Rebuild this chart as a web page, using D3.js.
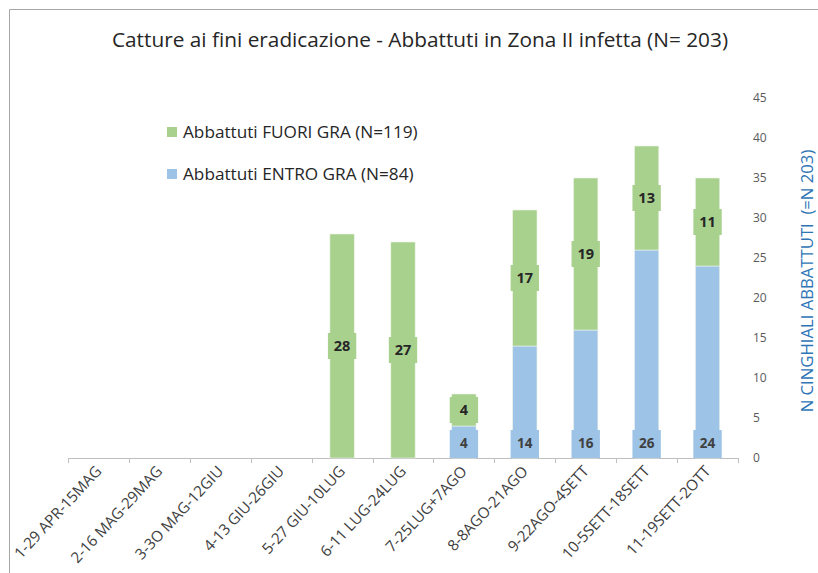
<!DOCTYPE html>
<html>
<head>
<meta charset="utf-8">
<script src="https://cdnjs.cloudflare.com/ajax/libs/d3/7.8.5/d3.min.js"></script>
<style>
  body { margin: 0; background: #fff; }
  text { font-family: "Open Sans", Lato, sans-serif; }
</style>
</head>
<body>
<script>
// categories (two-week periods) and the two stacked series
var periods = ["1-29 APR-15MAG", "2-16 MAG-29MAG", "3-3O MAG-12GIU", "4-13 GIU-26GIU",
  "5-27 GIU-10LUG", "6-11 LUG-24LUG", "7-25LUG+7AGO", "8-8AGO-21AGO",
  "9-22AGO-4SETT", "10-5SETT-18SETT", "11-19SETT-2OTT"];
var entroGra = [0, 0, 0, 0, 0, 0, 4, 14, 16, 26, 24];
var fuoriGra = [0, 0, 0, 0, 28, 27, 4, 17, 19, 13, 11];
var yTicks = [0, 5, 10, 15, 20, 25, 30, 35, 40, 45];

var W = 818, H = 573;
var margin = {top: 98, right: 80, bottom: 115, left: 68};
var width = W - margin.left - margin.right,
    height = H - margin.top - margin.bottom;

var svg = d3.select("body").append("svg")
    .attr("width", W)
    .attr("height", H);

// chart frame (only top and left edges are visible in the crop)
svg.append("line").attr("x1", 9.5).attr("x2", W).attr("y1", 9.5).attr("y2", 9.5)
    .attr("stroke", "#a6a6a6");
svg.append("line").attr("x1", 9.5).attr("x2", 9.5).attr("y1", 9.5).attr("y2", H)
    .attr("stroke", "#a6a6a6");

svg.append("text")
    .attr("x", 420).attr("y", 47)
    .attr("text-anchor", "middle")
    .attr("font-size", 20.8)
    .attr("fill", "#262626")
    .text("Catture ai fini eradicazione - Abbattuti in Zona II infetta (N= 203)");

var g = svg.append("g")
    .attr("transform", "translate(" + margin.left + "," + margin.top + ")");

var x = d3.scaleBand().domain(periods).range([0, width]).paddingInner(0.6).paddingOuter(0.3);
var band = d3.scaleBand().domain(periods).range([0, width]);
var y = d3.scaleLinear().domain([0, 45]).range([height, 0]);

var green = "#a9d18e", blue = "#9dc3e6";

// stacked data
var rows = periods.map(function(p, i) { return {p: p, entro: entroGra[i], fuori: fuoriGra[i]}; });
var stack = d3.stack().keys(["entro", "fuori"])(rows);
var colors = {entro: blue, fuori: green};

// x axis line and ticks at band boundaries
g.append("line").attr("x1", 0).attr("x2", width).attr("y1", height + 0.5).attr("y2", height + 0.5)
    .attr("stroke", "#bfbfbf");
g.selectAll("line.tick").data(d3.range(periods.length + 1)).enter().append("line")
    .attr("class", "tick")
    .attr("x1", function(i) { return Math.round(i * band.bandwidth()) + 0.5; })
    .attr("x2", function(i) { return Math.round(i * band.bandwidth()) + 0.5; })
    .attr("y1", height).attr("y2", height + 5)
    .attr("stroke", "#bfbfbf");

// bars
stack.forEach(function(layer) {
  g.selectAll("rect.bar-" + layer.key).data(layer).enter().append("rect")
      .attr("class", "bar-" + layer.key)
      .attr("x", function(d) { return x(d.data.p); })
      .attr("width", x.bandwidth())
      .attr("y", function(d) { return y(d[1]); })
      .attr("height", function(d) { return y(d[0]) - y(d[1]); })
      .attr("fill", colors[layer.key])
      .attr("stroke", "#eef4ea")
      .attr("stroke-width", 0.6);
});

// value labels
var lw = x.bandwidth() + 4, lh = 26;
var fuoriLab = stack[1].filter(function(d) { return d.data.fuori > 0; });
var entroLab = stack[0].filter(function(d) { return d.data.entro > 0; });

var gl = g.selectAll("g.flab").data(fuoriLab).enter().append("g")
    .attr("transform", function(d) {
      return "translate(" + (x(d.data.p) + x.bandwidth() / 2) + "," + ((y(d[0]) + y(d[1])) / 2) + ")";
    });
gl.append("rect").attr("x", -lw / 2).attr("y", -lh / 2).attr("width", lw)
    .attr("height", function(d) { return Math.min(lh, y(d[0]) - y(d[1]) - 1); })
    .attr("transform", function(d) { var h = Math.min(lh, y(d[0]) - y(d[1]) - 1); return "translate(0," + (lh - h) / 2 + ")"; })
    .attr("fill", green);
gl.append("text").attr("text-anchor", "middle").attr("dy", "0.36em")
    .attr("font-size", 14.5).attr("font-weight", "bold").attr("fill", "#262626")
    .text(function(d) { return d.data.fuori; });

var bl = g.selectAll("g.elab").data(entroLab).enter().append("g")
    .attr("transform", function(d) {
      return "translate(" + (x(d.data.p) + x.bandwidth() / 2) + "," + (height - 15) + ")";
    });
bl.append("rect").attr("x", -lw / 2).attr("y", -13).attr("width", lw).attr("height", 28)
    .attr("fill", blue);
bl.append("text").attr("text-anchor", "middle").attr("dy", "0.36em")
    .attr("font-size", 13.5).attr("font-weight", "bold").attr("fill", "#404040")
    .text(function(d) { return d.data.entro; });

// right y axis labels
g.selectAll("text.ytick").data(yTicks).enter().append("text")
    .attr("class", "ytick")
    .attr("x", width + 15)
    .attr("y", function(d) { return y(d); })
    .attr("dy", "0.36em")
    .attr("font-size", 12)
    .attr("fill", "#595959")
    .text(function(d) { return d; });

svg.append("text")
    .attr("transform", "translate(813,281) rotate(-90)")
    .attr("text-anchor", "middle")
    .attr("font-size", 16.7)
    .attr("fill", "#2e75b6")
    .attr("xml:space", "preserve")
    .text("N CINGHIALI ABBATTUTI  (=N 203)");

// x labels, rotated
g.selectAll("text.xlab").data(periods).enter().append("text")
    .attr("class", "xlab")
    .attr("transform", function(p) {
      return "translate(" + (x(p) + x.bandwidth() / 2 + 4) + "," + (height + 14) + ") rotate(-47)";
    })
    .attr("text-anchor", "end")
    .attr("font-size", 15.2)
    .attr("fill", "#404040")
    .text(function(p) { return p; });

// legend
var legend = [{label: "Abbattuti FUORI GRA (N=119)", color: green, y: 132},
              {label: "Abbattuti ENTRO GRA (N=84)", color: blue, y: 174}];
var lg = svg.selectAll("g.leg").data(legend).enter().append("g")
    .attr("transform", function(d) { return "translate(167," + d.y + ")"; });
lg.append("rect").attr("x", 0).attr("y", -5).attr("width", 10).attr("height", 10)
    .attr("fill", function(d) { return d.color; });
lg.append("text").attr("x", 16).attr("dy", "0.36em")
    .attr("font-size", 17.2).attr("fill", "#262626")
    .text(function(d) { return d.label; });
</script>
</body>
</html>
